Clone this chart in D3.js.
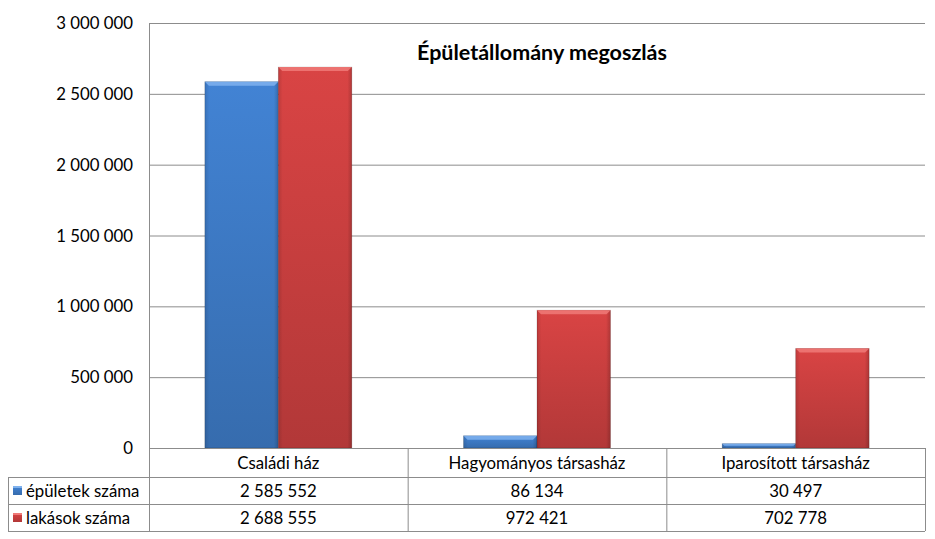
<!DOCTYPE html>
<html><head><meta charset="utf-8">
<script src="https://cdn.jsdelivr.net/npm/d3@7"></script>
<style>body{margin:0;background:#fff}svg{display:block;font-family:Lato,"Open Sans",sans-serif}</style>
</head><body><svg id="c" width="935" height="539"></svg>
<script>
const categories = ["Családi ház", "Hagyományos társasház", "Iparosított társasház"];
const seriesNames = ["épületek száma", "lakások száma"];
const epuletek = [2585552, 86134, 30497];
const lakasok = [2688555, 972421, 702778];
const yTicks = [0, 500000, 1000000, 1500000, 2000000, 2500000, 3000000];
const title = "Épületállomány megoszlás";

const svg = d3.select("#c");
const L = 149, R = 925, T = 23, B = 448;
const x = d3.scaleBand().domain(categories).range([L, R]).paddingInner(0).paddingOuter(0);
const xs = d3.scaleBand().domain(seriesNames).range([0, x.bandwidth()]).paddingInner(0).paddingOuter(0.76);
const y = d3.scaleLinear().domain([0, 3000000]).range([B, T]);
const fmt = v => d3.format(",")(v).replace(/,/g, " ");
const FS = 16.8;

const defs = svg.append("defs");
const colors = [{main:"#4283d4", light:"#7fb2ee", id:"b"}, {main:"#d94444", light:"#f07a78", id:"r"}];
colors.forEach(c => {
  const g = defs.append("linearGradient").attr("id", "g" + c.id).attr("x1", 0).attr("y1", 0).attr("x2", 0).attr("y2", 1);
  g.append("stop").attr("offset", "0%").attr("stop-color", c.main);
  g.append("stop").attr("offset", "100%").attr("stop-color", d3.color(c.main).darker(0.55));
  const h = defs.append("linearGradient").attr("id", "h" + c.id).attr("x1", 0).attr("y1", 0).attr("x2", 1).attr("y2", 0);
  h.append("stop").attr("offset", "0%").attr("stop-color", "#000").attr("stop-opacity", 0.12);
  h.append("stop").attr("offset", "6%").attr("stop-color", "#000").attr("stop-opacity", 0);
  h.append("stop").attr("offset", "94%").attr("stop-color", "#000").attr("stop-opacity", 0);
  h.append("stop").attr("offset", "100%").attr("stop-color", "#000").attr("stop-opacity", 0.18);
});

// gridlines
svg.append("g").selectAll("line").data(yTicks.filter(d => d > 0)).join("line")
  .attr("x1", L).attr("x2", R).attr("y1", d => y(d) + 0.5).attr("y2", d => y(d) + 0.5)
  .attr("stroke", "#8c8c8c").attr("stroke-width", 1);
svg.append("line").attr("x1", L + 0.5).attr("x2", L + 0.5).attr("y1", T).attr("y2", B).attr("stroke", "#8c8c8c");

// y labels
svg.append("g").selectAll("text").data(yTicks).join("text")
  .attr("x", 133).attr("y", d => y(d) + 6).attr("text-anchor", "end")
  .attr("font-size", FS).attr("fill", "#000").text(fmt);

// bars
const data = [epuletek, lakasok];
data.forEach((vals, si) => {
  const c = colors[si];
  const g = svg.append("g");
  vals.forEach((v, i) => {
    const bx = x(categories[i]) + xs(seriesNames[si]);
    const bw = xs.bandwidth();
    const by = y(v), bh = B - by;
    g.append("rect").attr("x", bx).attr("y", by).attr("width", bw).attr("height", bh)
      .attr("fill", "url(#g" + c.id + ")").attr("stroke", "rgba(0,0,0,0.2)").attr("stroke-width", 0.8);
    g.append("rect").attr("x", bx).attr("y", by).attr("width", bw).attr("height", bh).attr("fill", "url(#h" + c.id + ")");
    const bev = Math.min(4, bh / 2);
    g.append("path").attr("d", `M${bx},${by}L${bx + bw},${by}L${bx + bw - bev},${by + bev}L${bx + bev},${by + bev}Z`)
      .attr("fill", c.light).attr("opacity", 0.85);
  });
});

// table
const tl = 8, rowY = [448, 477, 504, 531];
const tg = svg.append("g").attr("stroke", "#8c8c8c").attr("fill", "none");
tg.append("line").attr("x1", L).attr("x2", R).attr("y1", rowY[0] + 0.5).attr("y2", rowY[0] + 0.5);
[1, 2, 3].forEach(r => tg.append("line").attr("x1", tl).attr("x2", R).attr("y1", rowY[r] + 0.5).attr("y2", rowY[r] + 0.5));
tg.append("line").attr("x1", tl + 0.5).attr("x2", tl + 0.5).attr("y1", rowY[1]).attr("y2", rowY[3]);
tg.append("line").attr("x1", L + 0.5).attr("x2", L + 0.5).attr("y1", rowY[0]).attr("y2", rowY[3]);
categories.forEach(cat => {
  const xe = x(cat) + x.bandwidth();
  tg.append("line").attr("x1", xe + 0.5).attr("x2", xe + 0.5).attr("y1", rowY[0]).attr("y2", rowY[3]);
});
const tt = svg.append("g").attr("font-size", FS).attr("fill", "#000");
categories.forEach((cat, i) => {
  const cx = x(cat) + x.bandwidth() / 2;
  tt.append("text").attr("x", cx).attr("y", 469).attr("text-anchor", "middle").text(cat);
  tt.append("text").attr("x", cx).attr("y", 497).attr("text-anchor", "middle").text(fmt(epuletek[i]));
  tt.append("text").attr("x", cx).attr("y", 524).attr("text-anchor", "middle").text(fmt(lakasok[i]));
});
seriesNames.forEach((s, si) => {
  const ry = si === 0 ? 497 : 524;
  const c = colors[si];
  svg.append("rect").attr("x", 13).attr("y", ry - 11).attr("width", 9).attr("height", 9).attr("fill", "url(#g" + c.id + ")");
  svg.append("rect").attr("x", 13).attr("y", ry - 11).attr("width", 9).attr("height", 2).attr("fill", c.light);
  tt.append("text").attr("x", 26).attr("y", ry).text(s);
});

// title
svg.append("text").attr("x", 542).attr("y", 60).attr("text-anchor", "middle")
  .attr("font-size", 21.5).attr("font-weight", "bold").attr("fill", "#000").text(title);
</script></body></html>
